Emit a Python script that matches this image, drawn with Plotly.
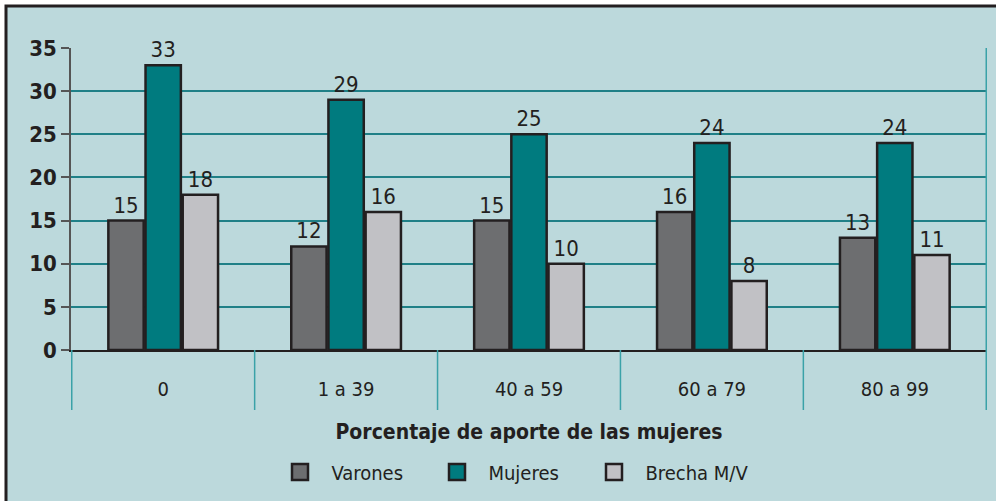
import plotly.graph_objects as go

categorias = ["0", "1 a 39", "40 a 59", "60 a 79", "80 a 99"]
varones = [15, 12, 15, 16, 13]
mujeres = [33, 29, 25, 24, 24]
brecha = [18, 16, 10, 8, 11]
y_ticks = [0, 5, 10, 15, 20, 25, 30, 35]

FONT = "DejaVu Sans Condensed, Liberation Sans Narrow, sans-serif"
INK = "#231f20"
TEAL_LINE = "#1f8087"
SEP = "#3aa2a8"

series = [
    ("Varones", varones, "#6d6e70"),
    ("Mujeres", mujeres, "#007b7f"),
    ("Brecha M/V", brecha, "#c1c1c5"),
]

fig = go.Figure()
for name, vals, color in series:
    fig.add_trace(go.Bar(
        x=categorias, y=vals, name=name, showlegend=False,
        marker=dict(color=color, line=dict(color=INK, width=2.5)),
        text=[str(v) for v in vals], texttemplate="%{text}",
        textposition="outside", constraintext="none",
        textfont=dict(family=FONT, size=22, color=INK),
        cliponaxis=False,
    ))
# legend entries with bigger squares
for name, vals, color in series:
    fig.add_trace(go.Scatter(
        x=[None], y=[None], mode="markers", name="  " + name,
        marker=dict(symbol="square", size=16, color=color, line=dict(color=INK, width=2.5)),
    ))

W, H = 996, 501
L, R, T, B = 71, 9, 48, 151
pw, ph = W - L - R, H - T - B

def px_x(p):
    return (p - L) / pw

def px_y(p):
    return (H - B - p) / ph

shapes = [
    # outer frame
    dict(type="rect", xref="paper", yref="paper", layer="below",
         x0=px_x(6), x1=px_x(W + 20), y0=px_y(H + 20), y1=px_y(6),
         fillcolor="#bcd9dc", line=dict(color=INK, width=3)),
]
for i in range(len(categorias) + 1):
    xb = i - 0.5
    shapes.append(dict(type="line", xref="x", yref="paper",
                       x0=xb, x1=xb, y0=px_y(410), y1=1 if i == len(categorias) else 0,
                       line=dict(color=SEP, width=1.5)))

fig.update_layout(
    width=W, height=H,
    margin=dict(l=L, r=R, t=T, b=B, autoexpand=False),
    paper_bgcolor="white",
    plot_bgcolor="#dbeaea",
    barmode="group", bargap=0.39, bargroupgap=0.05,
    font=dict(family=FONT, color=INK),
    shapes=shapes,
    legend=dict(orientation="h", x=px_x(280), xanchor="left", y=px_y(472), yanchor="middle",
                font=dict(family=FONT, size=20, color=INK), bgcolor="rgba(0,0,0,0)",
                entrywidth=112, entrywidthmode="pixels", traceorder="normal"),
)
fig.update_xaxes(
    type="category", showgrid=False, ticks="", automargin=False,
    tickfont=dict(family=FONT, size=20, color=INK), ticklabelstandoff=20,
    showline=True, linecolor=INK, linewidth=2,
    title=dict(text="<b>Porcentaje de aporte de las mujeres</b>", standoff=24,
               font=dict(family=FONT, size=21, color=INK)),
)
fig.update_yaxes(
    range=[0, 35], tickvals=y_ticks, ticktext=[f"<b>{v}</b>" for v in y_ticks],
    tickfont=dict(family=FONT, size=22, color=INK), automargin=False,
    showgrid=True, gridcolor=TEAL_LINE, gridwidth=1.5,
    zeroline=False, showline=True, linecolor="#555555", linewidth=1.5,
    ticks="outside", ticklen=8, tickcolor="#555555", tickwidth=1.5,
)

fig.write_html("out.html", config={"displayModeBar": False},
               post_script="document.body.style.margin='0';")
